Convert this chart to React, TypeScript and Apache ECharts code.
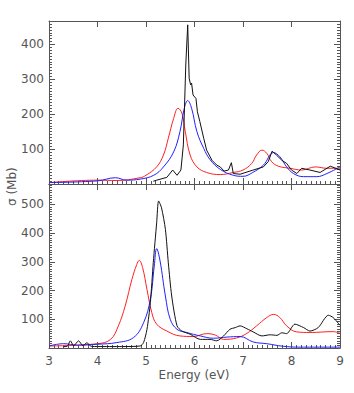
import React, { useEffect, useRef } from "react";
import * as echarts from "echarts";

// Top panel
const topRedX = [3.0, 4.0, 4.4, 4.88, 5.0, 5.22, 5.36, 5.46, 5.57, 5.66, 5.74, 5.81, 5.91, 6.05, 6.25, 6.53, 6.8, 7.0, 7.18, 7.28, 7.39, 7.49, 7.59, 7.73, 7.97, 8.21, 8.49, 8.73, 9.0];
const topRedY = [4, 11, 10, 18, 25, 49, 83, 131, 188, 217, 203, 150, 83, 49, 33, 27, 33, 40, 59, 83, 97, 88, 64, 51, 45, 40, 49, 45, 45];
const topBlueX = [3.0, 4.0, 4.37, 4.6, 4.88, 5.16, 5.36, 5.57, 5.7, 5.79, 5.86, 5.94, 6.05, 6.19, 6.32, 6.53, 6.8, 7.0, 7.2, 7.42, 7.63, 7.76, 7.9, 8.04, 8.25, 8.52, 8.73, 9.0];
const topBlueY = [4, 9, 18, 11, 14, 25, 49, 92, 150, 217, 239, 217, 150, 102, 70, 42, 25, 22, 33, 54, 90, 78, 49, 30, 21, 21, 30, 49];
const topBlackX = [5.15, 5.22, 5.43, 5.55, 5.64, 5.72, 5.77, 5.82, 5.86, 5.89, 5.92, 5.94, 5.97, 6.03, 6.06, 6.11, 6.19, 6.25, 6.36, 6.46, 6.53, 6.61, 6.7, 6.76, 6.8, 6.94, 7.21, 7.42, 7.52, 7.6, 7.69, 7.8, 7.9, 8.0, 8.11, 8.21, 8.38, 8.59, 8.8, 9.0];
const topBlackY = [8, 11, 19, 40, 25, 40, 112, 341, 456, 303, 284, 289, 255, 245, 207, 179, 131, 97, 68, 54, 49, 37, 40, 61, 30, 28, 40, 49, 64, 94, 83, 68, 59, 40, 30, 45, 40, 33, 51, 40];

// Bottom panel
const botRedX = [3.0, 4.0, 4.27, 4.43, 4.57, 4.71, 4.81, 4.86, 4.93, 5.02, 5.12, 5.22, 5.43, 5.7, 5.98, 6.25, 6.43, 6.6, 6.87, 7.08, 7.28, 7.49, 7.63, 7.76, 7.9, 8.11, 8.38, 8.86, 9.0];
const botRedY = [7, 15, 30, 77, 146, 239, 291, 305, 280, 204, 123, 83, 59, 42, 40, 50, 45, 30, 35, 51, 77, 106, 117, 106, 77, 56, 54, 57, 51];
const botBlueX = [3.0, 3.3, 3.58, 4.0, 4.4, 4.74, 4.95, 5.09, 5.17, 5.22, 5.29, 5.4, 5.5, 5.64, 5.84, 6.12, 6.39, 6.67, 6.94, 7.21, 7.49, 7.83, 8.18, 9.0];
const botBlueY = [7, 15, 10, 13, 19, 36, 88, 170, 285, 346, 303, 181, 100, 65, 54, 42, 34, 38, 40, 21, 15, 6, 3, 3];
const botBlackX = [3.3, 3.37, 3.44, 3.51, 3.61, 3.7, 3.78, 3.87, 4.0, 4.5, 4.88, 4.95, 5.02, 5.09, 5.15, 5.22, 5.26, 5.32, 5.4, 5.46, 5.53, 5.64, 5.74, 5.91, 6.12, 6.32, 6.46, 6.6, 6.73, 6.84, 6.94, 7.08, 7.21, 7.39, 7.56, 7.7, 7.8, 7.9, 8.07, 8.25, 8.38, 8.55, 8.76, 8.86, 9.0];
const botBlackY = [5, 5, 25, 8, 25, 8, 18, 6, 5, 5, 7, 19, 65, 158, 297, 436, 512, 488, 413, 297, 181, 77, 59, 48, 30, 30, 25, 42, 65, 71, 77, 67, 56, 42, 46, 44, 53, 50, 83, 71, 59, 71, 114, 106, 79];

const xTicks = [3, 4, 5, 6, 7, 8, 9];

const pair = (xs: number[], ys: number[]) => xs.map((x, i) => [x, ys[i]]);

const AXIS_COLOR = "#555";
const TEXT_COLOR = "#555";
const FONT = "DejaVu Sans";

export default function App() {
  const ref = useRef<HTMLDivElement>(null);
  useEffect(() => {
    if (!ref.current) return;
    const chart = echarts.init(ref.current, null, { renderer: "svg" });
    const xBase = (gridIndex: number, position: string, labels: boolean, minor: boolean) => ({
      type: "value",
      gridIndex,
      position,
      min: xTicks[0],
      max: xTicks[xTicks.length - 1],
      interval: 1,
      axisLine: { onZero: false, lineStyle: { color: AXIS_COLOR, width: 1 } },
      axisTick: { inside: true, length: 6, lineStyle: { color: AXIS_COLOR } },
      minorTick: { show: minor, splitNumber: 10, length: 3, lineStyle: { color: AXIS_COLOR } },
      axisLabel: { show: labels, color: TEXT_COLOR, fontFamily: FONT, fontSize: 12, margin: 7 },
      splitLine: { show: false },
    });
    const yBase = (gridIndex: number, position: string, labels: boolean, max: number) => ({
      type: "value",
      gridIndex,
      position,
      min: 0,
      max,
      interval: 100,
      axisLine: { onZero: false, lineStyle: { color: AXIS_COLOR, width: 1 } },
      axisTick: { inside: true, length: 6, lineStyle: { color: AXIS_COLOR } },
      minorTick: { show: true, splitNumber: 12, length: 3, lineStyle: { color: AXIS_COLOR } },
      axisLabel: {
        show: labels,
        color: TEXT_COLOR,
        fontFamily: FONT,
        fontSize: 12,
        margin: 5,
        showMaxLabel: false,
        formatter: (v: number) => (v !== 0 && v % 100 === 0 ? String(v) : ""),
      },
      splitLine: { show: false },
    });
    const line = (name: string, data: number[][], color: string, xi: number, yi: number, smooth: number | boolean) => ({
      name,
      type: "line",
      xAxisIndex: xi,
      yAxisIndex: yi,
      data,
      symbol: "none",
      smooth,
      lineStyle: { color, width: 1 },
    });
    chart.setOption({
      animation: false,
      backgroundColor: "#fff",
      grid: [
        { left: 49, top: 21, width: 291, height: 163 },
        { left: 49, top: 184, width: 291, height: 164 },
      ],
      xAxis: [
        xBase(0, "bottom", false, true),
        xBase(0, "top", false, false),
        xBase(1, "bottom", true, true),
        xBase(1, "top", false, false),
      ],
      yAxis: [
        yBase(0, "left", true, 467),
        yBase(0, "right", false, 467),
        yBase(1, "left", true, 571),
        yBase(1, "right", false, 571),
      ],
      series: [
        line("top-red", pair(topRedX, topRedY), "#ff2020", 0, 0, 0.4),
        line("top-blue", pair(topBlueX, topBlueY), "#2020ff", 0, 0, 0.4),
        line("top-black", pair(topBlackX, topBlackY), "#111", 0, 0, false),
        line("bot-red", pair(botRedX, botRedY), "#ff2020", 2, 2, 0.4),
        line("bot-blue", pair(botBlueX, botBlueY), "#2020ff", 2, 2, 0.4),
        line("bot-black", pair(botBlackX, botBlackY), "#111", 2, 2, 0.25),
      ],
      graphic: [
        {
          type: "text",
          x: 6,
          y: 206,
          rotation: Math.PI / 2,
          style: {
            text: "σ (Mb)",
            fill: TEXT_COLOR,
            font: `12px "${FONT}"`,
            align: "left",
            verticalAlign: "top",
          },
        },
        {
          type: "text",
          x: 194,
          y: 375,
          style: {
            text: "Energy (eV)",
            fill: TEXT_COLOR,
            font: `12px "${FONT}"`,
            align: "center",
            verticalAlign: "middle",
          },
        },
      ],
    });
    return () => chart.dispose();
  }, []);
  return <div ref={ref} style={{ width: 354, height: 393, position: "absolute", left: 0, top: 0 }} />;
}
